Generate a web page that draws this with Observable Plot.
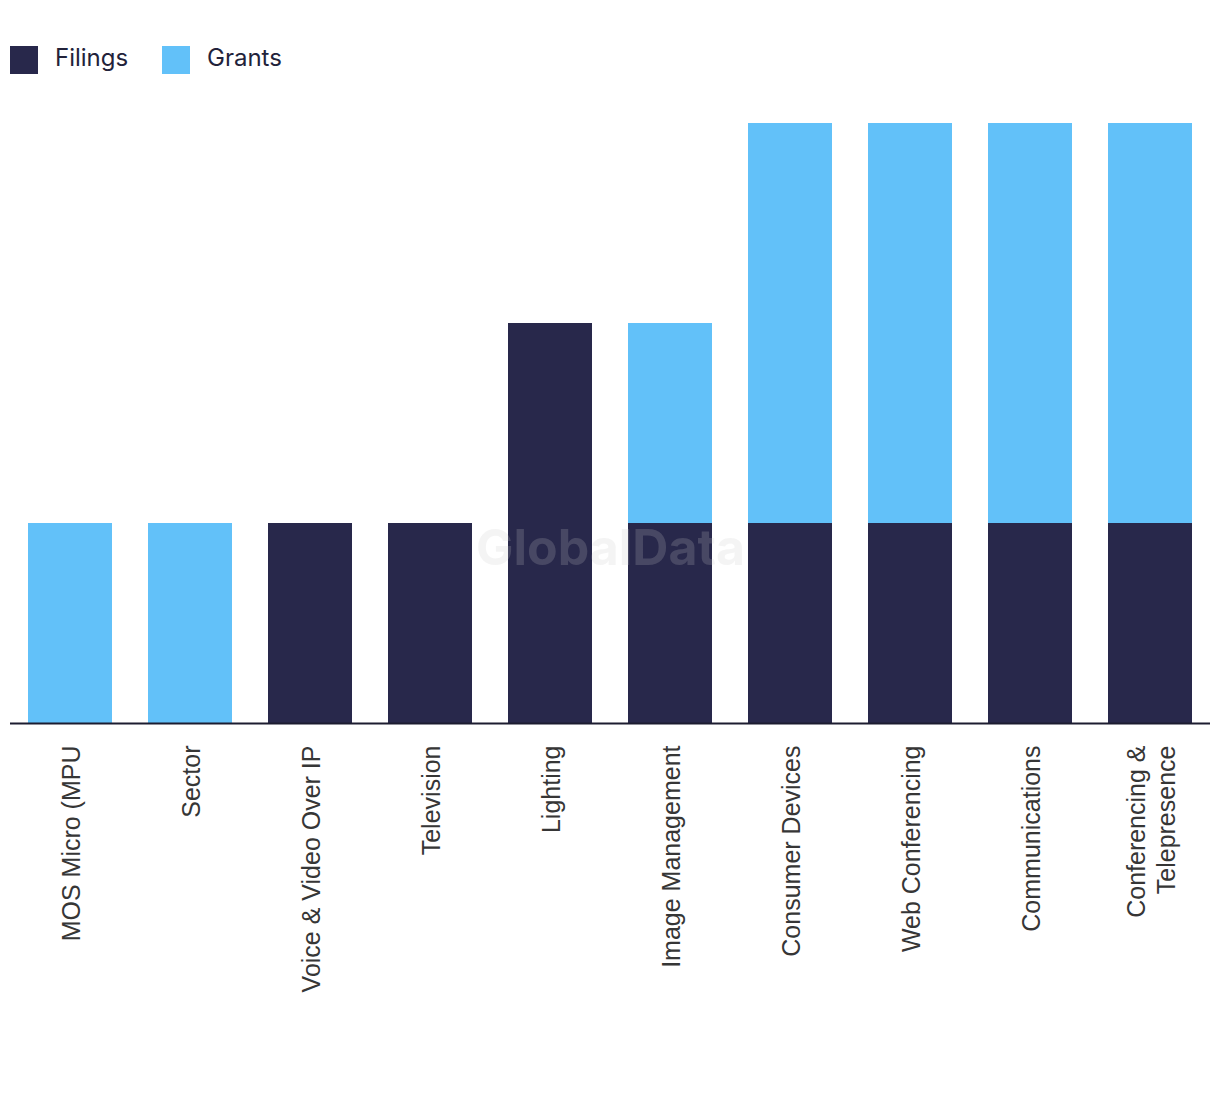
<!DOCTYPE html>
<html>
<head>
<meta charset="utf-8">
<script src="https://cdn.jsdelivr.net/npm/d3@7"></script>
<script src="https://cdn.jsdelivr.net/npm/@observablehq/plot@0.6"></script>
<style>
  html, body { margin: 0; padding: 0; background: #fff; }
  #legend { height: 100px; position: relative; font-family: Inter, "Liberation Sans", sans-serif; font-size: 24px; color: #22223a; }
  .sw { position: absolute; top: 46px; width: 28px; height: 28px; }
  .lb { position: absolute; top: 44px; line-height: 28px; }
  #chart text.lbl { font-family: "Liberation Sans", Arial, sans-serif; }
</style>
</head>
<body>
<div id="legend">
  <div class="sw" style="left:10px;background:#28284b"></div><div class="lb" style="left:55px">Filings</div>
  <div class="sw" style="left:162px;background:#62c1f9"></div><div class="lb" style="left:207px">Grants</div>
</div>
<div id="chart"></div>
<script>
const categories = ["MOS Micro (MPU", "Sector", "Voice & Video Over IP", "Television", "Lighting", "Image Management", "Consumer Devices", "Web Conferencing", "Communications", "Conferencing &\nTelepresence"];
const filings = [0, 0, 1, 1, 2, 1, 1, 1, 1, 1];
const grants  = [1, 1, 0, 0, 0, 1, 2, 2, 2, 2];
const seriesNames = ["Filings", "Grants"];
const seriesColors = ["#28284b", "#62c1f9"];

const rows = [];
categories.forEach((c, i) => {
  rows.push({category: c, series: "Filings", value: filings[i]});
  rows.push({category: c, series: "Grants", value: grants[i]});
});

const chart = Plot.plot({
  width: 1220,
  height: 994,
  marginLeft: 10,
  marginRight: 10,
  marginTop: 23,
  marginBottom: 371,
  x: {domain: categories, paddingInner: 0.3, paddingOuter: 0.15, axis: null},
  y: {domain: [0, 3], axis: null},
  color: {domain: seriesNames, range: seriesColors},
  marks: [
    Plot.barY(rows, {x: "category", y: "value", fill: "series", order: seriesNames}),
    Plot.ruleY([0], {stroke: "#1c1c30", strokeWidth: 2}),
    Plot.text(categories, {x: d => d, y: 0, text: d => d, rotate: -90, textAnchor: "end", lineAnchor: "middle", lineHeight: 1.2, dy: 22, fontSize: 25, fill: "#363636", fontFamily: "'Liberation Sans', Arial, sans-serif", className: "lbl"}),
    Plot.text(["GlobalData"], {frameAnchor: "middle", text: d => d, dy: 125, fontSize: 50, fontWeight: "bold", fill: "#cacaca", fillOpacity: 0.2, fontFamily: "Inter, 'Liberation Sans', sans-serif"})
  ]
});
chart.querySelectorAll("g[aria-label='text']")[0]?.querySelectorAll("text").forEach(t => t.classList.add("lbl"));
document.getElementById("chart").appendChild(chart);
</script>
</body>
</html>
